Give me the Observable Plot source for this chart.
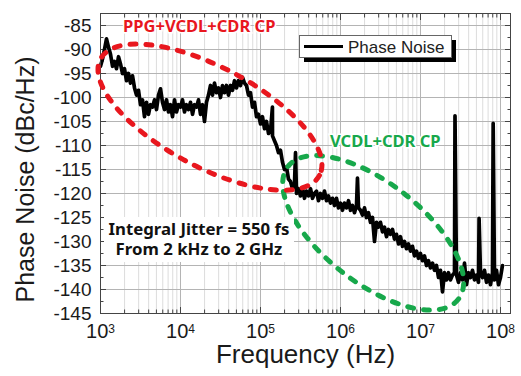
<!DOCTYPE html>
<html><head><meta charset="utf-8">
<script src="https://cdn.jsdelivr.net/npm/d3@7"></script>
<script src="https://cdn.jsdelivr.net/npm/@observablehq/plot@0.6"></script>
<style>body{margin:0;background:#fff}</style>
</head><body><div id="chart"></div>
<script>
// Frequency mantissas within each decade (0.025-decade spacing)
const mantissa = [1.000,1.059,1.122,1.189,1.259,1.334,1.413,1.496,1.585,1.679,
  1.778,1.884,1.995,2.113,2.239,2.371,2.512,2.661,2.818,2.985,
  3.162,3.350,3.548,3.758,3.981,4.217,4.467,4.732,5.012,5.309,
  5.623,5.957,6.310,6.683,7.079,7.499,7.943,8.414,8.913,9.441];
// Phase noise (dBc/Hz) for each decade
const pnDecade3 = [-93.5,-92,-90,-87.8,-89.5,-91,-93.5,-92.5,-94,-91.5,
  -93,-95,-94,-96.5,-95,-97,-95.5,-98,-99.5,-98.5,
  -101.5,-100.5,-104,-101,-103.5,-101.5,-102,-100.5,-102.5,-99.5,
  -98.2,-101,-102.5,-100.5,-103,-101.5,-104,-100.5,-103,-101.5];
const pnDecade4 = [-102,-100.5,-103,-101.5,-102.5,-101,-103.5,-101.5,-102,-100.5,
  -103.5,-101.5,-105,-101,-99.5,-97.5,-99.5,-97,-99,-98,
  -100,-97.5,-99,-97.5,-99.5,-97.5,-98.5,-96.5,-98,-96.5,
  -97.5,-95.8,-97,-97.5,-99.5,-99,-102,-101,-104,-103.5];
const pnDecade5 = [-105.5,-104,-106.5,-105,-107.5,-107,-108,-109,-110,-111.5,
  -111,-113.5,-115,-114.5,-117,-117.5,-119,-118,-120,-119,
  -120.5,-119,-121,-119.5,-120.5,-119,-121,-120,-119.5,-121.5,
  -120,-121,-119.5,-121.5,-120.5,-122,-121,-122.5,-121,-123];
const pnDecade6 = [-122,-123.5,-122,-123,-121.5,-123.5,-122.5,-124,-122.5,-123,
  -123.5,-124.5,-123,-125,-124,-126,-125,-130,-126,-127,
  -126,-128,-127,-129,-127.5,-128.5,-127.5,-129.5,-128.5,-130.5,
  -129,-131,-130,-131.5,-130.5,-132,-131,-133,-132,-133.5];
const pnDecade7 = [-132.5,-134,-133,-135,-134,-135.5,-134.5,-136,-135,-137.5,
  -136,-140.5,-136.5,-138,-136.5,-138,-137,-136.5,-137,-138.5,
  -136.5,-138,-134.5,-139,-136.5,-137.5,-136,-138,-137,-138.5,
  -136.5,-137.5,-136,-138.5,-137,-139,-136.5,-138,-136,-139];
const pnDecade8 = [-137.5,-135];
// Narrow spurs
const spikeFreq = [1.41e5, 2.74e5, 1.63e6, 2.7e7, 5.4e7, 8.1e7];
const spikeTop  = [-102, -111.5, -116.8, -103.8, -125.2, -105.4];
// Axis ticks
const xTicks = [1e3, 1e4, 1e5, 1e6, 1e7, 1e8];
const yTicks = [-145,-140,-135,-130,-125,-120,-115,-110,-105,-100,-95,-90,-85];
const xMinorMult = [2,3,4,5,6,7,8,9];

const decades = [[1e3,pnDecade3],[1e4,pnDecade4],[1e5,pnDecade5],[1e6,pnDecade6],[1e7,pnDecade7],[1e8,pnDecade8]];
const trace = [];
for (const [base, vals] of decades) vals.forEach((v,i) => trace.push({f: base*mantissa[i], pn: v}));
spikeFreq.forEach((f,i) => trace.push({f, pn: spikeTop[i]}));
trace.sort((a,b) => a.f - b.f);

const xMinor = [];
for (const b of xTicks.slice(0,5)) for (const m of xMinorMult) xMinor.push(b*m);
const yMinor = [];
for (let i = 0; i < yTicks.length - 1; i++) yMinor.push(yTicks[i] + 2.5);

const blank = () => "";
const plot = Plot.plot({
  width: 521, height: 376,
  marginTop: 13, marginBottom: 63, marginLeft: 100, marginRight: 11,
  style: {fontFamily: "'Liberation Sans', Arial, sans-serif", background: "#fff", color: "#1a1a1a"},
  x: {type: "log", domain: [1e3, 1.334e8]},
  y: {domain: [-145, -82.5]},
  marks: [
    Plot.gridX(xMinor, {stroke: "#dcdcdc", strokeOpacity: 1}),
    Plot.gridX(xTicks, {stroke: "#b4b4b4", strokeOpacity: 1}),
    Plot.gridY(yTicks, {stroke: "#b4b4b4", strokeOpacity: 1}),
    Plot.axisX(xTicks, {anchor: "bottom", tickSize: 0, tickPadding: 10, fontSize: 20, label: null,
      tickFormat: d => String(Math.round(Math.log10(d)))}),
    Plot.axisX(xTicks, {anchor: "bottom", tickSize: -6, tickFormat: blank, label: null, stroke: "#444"}),
    Plot.axisX(xMinor, {anchor: "bottom", tickSize: -3.5, tickFormat: blank, label: null, stroke: "#444"}),
    Plot.axisX(xTicks, {anchor: "top", tickSize: -6, tickFormat: blank, label: null, stroke: "#444"}),
    Plot.axisX(xMinor, {anchor: "top", tickSize: -3.5, tickFormat: blank, label: null, stroke: "#444"}),
    Plot.axisY(yTicks, {anchor: "left", tickSize: 0, tickPadding: 9, fontSize: 19, label: null,
      tickFormat: d => String(d)}),
    Plot.axisY(yTicks, {anchor: "left", tickSize: -6, tickFormat: blank, label: null, stroke: "#444"}),
    Plot.axisY(yMinor, {anchor: "left", tickSize: -3.5, tickFormat: blank, label: null, stroke: "#444"}),
    Plot.axisY(yTicks, {anchor: "right", tickSize: -6, tickFormat: blank, label: null, stroke: "#444"}),
    Plot.axisY(yMinor, {anchor: "right", tickSize: -3.5, tickFormat: blank, label: null, stroke: "#444"}),
    Plot.line(trace, {x: "f", y: "pn", stroke: "#000", strokeWidth: 3.7, strokeLinejoin: "round"}),
    Plot.frame({stroke: "#444"}),
    Plot.text(["Frequency (Hz)"], {frameAnchor: "bottom", lineAnchor: "middle", textAnchor: "middle",
      dy: 41, fontSize: 26, fill: "#1a1a1a"}),
    Plot.text(["Phase Noise (dBc/Hz)"], {frameAnchor: "left", lineAnchor: "middle", textAnchor: "middle",
      dx: -75, dy: 16, rotate: -90, fontSize: 25, fill: "#1a1a1a"})
  ]
});

// superscript exponents on x tick labels
d3.select(plot).selectAll('g[aria-label="x-axis tick label"] text').each(function() {
  const e = this.textContent;
  if (!e) return;
  const t = d3.select(this);
  t.text("10");
  t.append("tspan").attr("dy", "-0.4em").attr("font-size", 12).text(e);
});

document.getElementById("chart").appendChild(plot);

const svg = d3.select(plot);
const sx = plot.scale("x"), sy = plot.scale("y");
const ann = svg.append("g").attr("text-anchor", "start");

// Dashed ellipses (centres placed in data coordinates)
const ellipses = [
  {f: 2.6e6, pn: -128.3, rx: 108, ry: 50, angle: 38, color: "#17a84b"},
  {f: 2.37e4, pn: -104.2, rx: 124, ry: 50, angle: 28, color: "#e8171e"}
];
for (const e of ellipses) {
  const cx = sx.apply(e.f), cy = sy.apply(e.pn);
  ann.append("ellipse").attr("cx", 0).attr("cy", 0).attr("rx", e.rx).attr("ry", e.ry)
    .attr("transform", `translate(${cx},${cy}) rotate(${e.angle})`)
    .attr("fill", "none").attr("stroke", e.color).attr("stroke-width", 5)
    .attr("stroke-dasharray", "6 10").attr("stroke-linecap", "round");
}

const boldFont = "'Noto Sans', 'Open Sans', sans-serif";
ann.append("text").attr("x", 123).attr("y", 32).attr("text-anchor", "start").attr("font-family", boldFont).attr("font-weight", "bold")
  .attr("font-size", 16.5).attr("fill", "#e8171e").attr("stroke", "#fff").attr("stroke-width", 3)
  .attr("paint-order", "stroke").text("PPG+VCDL+CDR CP");
ann.append("text").attr("x", 330).attr("y", 147).attr("text-anchor", "start").attr("font-family", boldFont).attr("font-weight", "bold")
  .attr("font-size", 16.5).attr("fill", "#17a84b").attr("stroke", "#fff").attr("stroke-width", 3)
  .attr("paint-order", "stroke").text("VCDL+CDR CP");

ann.append("rect").attr("x", 104).attr("y", 217).attr("width", 190).attr("height", 45).attr("fill", "#fff");
ann.append("text").attr("x", 199).attr("y", 235).attr("text-anchor", "middle").attr("font-family", boldFont)
  .attr("font-weight", "bold").attr("font-size", 16.8).attr("fill", "#111").text("Integral Jitter = 550 fs");
ann.append("text").attr("x", 199).attr("y", 254.5).attr("text-anchor", "middle").attr("font-family", boldFont)
  .attr("font-weight", "bold").attr("font-size", 16.8).attr("fill", "#111").text("From 2 kHz to 2 GHz");

// Legend box with shadow
const lg = svg.append("g").attr("text-anchor", "start");
lg.append("rect").attr("x", 304).attr("y", 40).attr("width", 152).attr("height", 22).attr("fill", "#000");
lg.append("rect").attr("x", 299.5).attr("y", 35.5).attr("width", 152).attr("height", 22).attr("fill", "#fff").attr("stroke", "#666");
lg.append("line").attr("x1", 304).attr("x2", 343).attr("y1", 46.5).attr("y2", 46.5).attr("stroke", "#000").attr("stroke-width", 3);
lg.append("text").attr("x", 348).attr("y", 52.5).attr("text-anchor", "start").attr("font-family", "'Liberation Sans', Arial, sans-serif")
  .attr("font-size", 17).attr("fill", "#222").text("Phase Noise");
</script>
</body></html>
